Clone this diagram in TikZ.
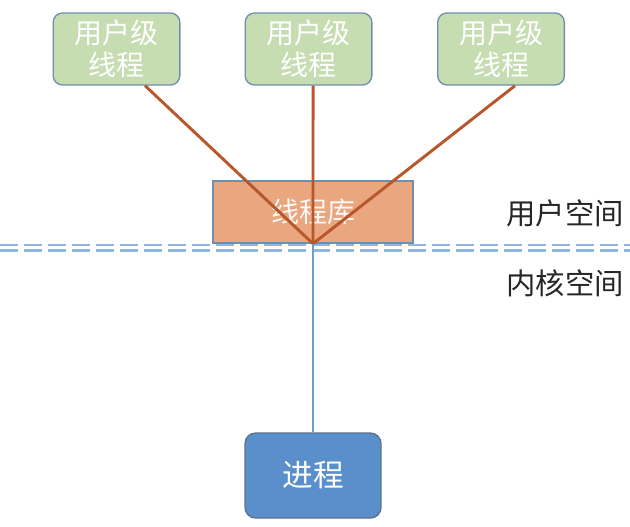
\documentclass[tikz,border=0pt]{standalone}
\usepackage{fontspec}
\newfontfamily\cjk{Noto Sans CJK SC}
\usetikzlibrary{positioning}
\definecolor{ulgreen}{HTML}{C6DDB2}
\definecolor{libfill}{HTML}{E9A67F}
\definecolor{procfill}{HTML}{5A8FCB}
\definecolor{boxedge}{HTML}{6F8FAE}
\definecolor{wire}{HTML}{B8572C}
\definecolor{kwire}{HTML}{6B9DD3}
\definecolor{sep}{HTML}{8DB6E0}
\tikzset{
  ulthread/.style={draw=boxedge, line width=1pt, fill=ulgreen, rounded corners=7pt,
    minimum width=95pt, minimum height=54pt, text=white, align=center,
    font=\cjk\fontsize{21}{24}\selectfont},
  libbox/.style={draw=boxedge, line width=1pt, fill=libfill,
    minimum width=150pt, minimum height=46.5pt, text=white!92!libfill,
    font=\cjk\fontsize{21}{24}\selectfont},
  procbox/.style={draw=boxedge!80!black, line width=1pt, fill=procfill, rounded corners=8pt,
    minimum width=102pt, minimum height=63.75pt, text=white,
    font=\cjk\fontsize{23}{26}\selectfont},
  spacelabel/.style={font=\cjk\fontsize{22}{26}\selectfont, text=black!85},
  sepline/.style={sep, line width=1.6pt, dash pattern=on 13.5pt off 4.5pt}
}
\begin{document}
\begin{tikzpicture}[x=0.75pt, y=-0.75pt]
  \useasboundingbox (0,0) rectangle (630,526);
  % user-level threads
  \node[ulthread] (u1) at (116.5,49) {用户级\\线程};
  \node[ulthread] (u2) at (308.5,49) {用户级\\线程};
  \node[ulthread] (u3) at (501,49) {用户级\\线程};
  % thread library
  \node[libbox] (lib) at (313,212) {线程库};
  % process
  \node[procbox] (proc) at (313,475.5) {进程};

  % user / kernel separator
  \draw[sepline] (0,245) -- (630,245);
  \draw[sepline] (0,250.5) -- (630,250.5);
  \node[spacelabel] (us) at (565,213) {用户空间};
  \node[spacelabel] (ks) at (565,283) {内核空间};

  % many-to-one mapping
  \draw[wire, line width=2.2pt] ([xshift=21.4pt]u1.south) -- (lib.south);
  \draw[wire, line width=2.2pt] ([xshift=3.4pt]u2.south) -- (lib.south);
  \draw[wire, line width=2.2pt] ([xshift=10.5pt]u3.south) -- (lib.south);
  \draw[kwire, line width=2.2pt] (lib.south) -- (proc.north);
\end{tikzpicture}
\end{document}
